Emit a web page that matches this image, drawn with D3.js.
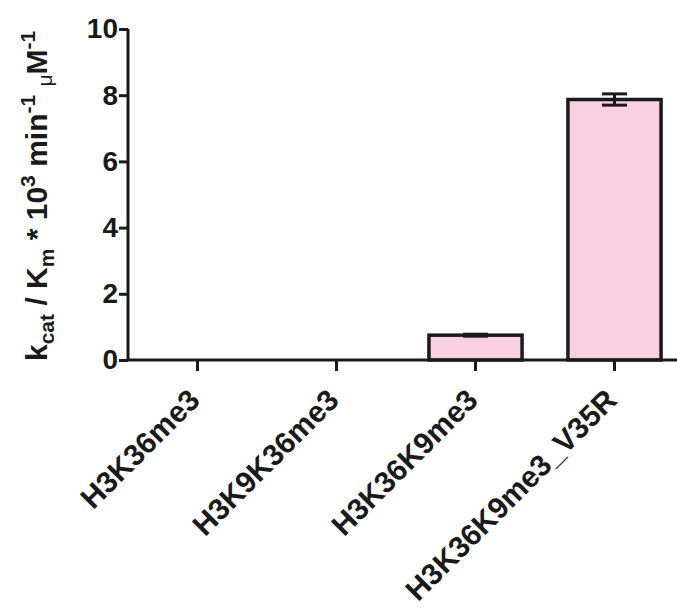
<!DOCTYPE html>
<html>
<head>
<meta charset="utf-8">
<script src="https://cdn.jsdelivr.net/npm/d3@7"></script>
<style>
  html, body { margin: 0; padding: 0; background: #fff; }
  text { font-family: "Liberation Sans", Arial, sans-serif; font-weight: bold; fill: #1a1a1a; }
</style>
</head>
<body>
<svg id="chart" width="677" height="609"></svg>
<script>
// Catalytic efficiency per substrate peptide
const substrates = ["H3K36me3", "H3K9K36me3", "H3K36K9me3", "H3K36K9me3_V35R"];
const efficiency = [0, 0, 0.75, 7.87];
const errors = [0, 0, 0.03, 0.17];
const yTicks = [0, 2, 4, 6, 8, 10];

const svg = d3.select("#chart");
const ink = "#1a1a1a";
const pink = "#f8d0e2";

const x0 = 128, yBase = 360, yTop = 29;

const x = d3.scaleBand()
  .domain(substrates)
  .range([x0, x0 + 556])
  .paddingInner(0.33)
  .paddingOuter(0.165);

const y = d3.scaleLinear().domain([0, 10]).range([yBase, yTop]);

const rows = substrates.map((s, i) => ({ s, v: efficiency[i], e: errors[i] }));

// bars
svg.append("g").selectAll("rect")
  .data(rows.filter(d => d.v > 0))
  .join("rect")
  .attr("x", d => x(d.s))
  .attr("y", d => y(d.v))
  .attr("width", x.bandwidth())
  .attr("height", d => y(0) - y(d.v))
  .attr("fill", pink)
  .attr("stroke", ink)
  .attr("stroke-width", 3.5);

// error bars
const eb = svg.append("g").attr("stroke", ink).attr("stroke-width", 3);
rows.filter(d => d.e > 0).forEach(d => {
  const cx = x(d.s) + x.bandwidth() / 2;
  const hw = 12.5;
  eb.append("line").attr("x1", cx).attr("x2", cx).attr("y1", y(d.v - d.e)).attr("y2", y(d.v + d.e));
  eb.append("line").attr("x1", cx - hw).attr("x2", cx + hw).attr("y1", y(d.v + d.e)).attr("y2", y(d.v + d.e));
  eb.append("line").attr("x1", cx - hw).attr("x2", cx + hw).attr("y1", y(d.v - d.e)).attr("y2", y(d.v - d.e));
});

// y axis
const yAxis = svg.append("g")
  .attr("transform", `translate(${x0},0)`)
  .call(d3.axisLeft(y).tickValues(yTicks).tickSize(9).tickPadding(1).tickFormat(d3.format("d")));
yAxis.select(".domain").attr("stroke", ink).attr("stroke-width", 3)
  .attr("d", `M0,${yTop}V${yBase}`);
yAxis.selectAll(".tick line").attr("stroke", ink).attr("stroke-width", 3);
yAxis.selectAll(".tick text").attr("font-size", 28).attr("fill", ink)
  .attr("font-family", "Liberation Sans, Arial, sans-serif").attr("font-weight", "bold");

// x axis
const xAxis = svg.append("g")
  .attr("transform", `translate(0,${yBase})`)
  .call(d3.axisBottom(x).tickSize(11).tickFormat(() => ""));
xAxis.select(".domain").attr("stroke", ink).attr("stroke-width", 3)
  .attr("d", `M${x0},0H677`);
xAxis.selectAll(".tick line").attr("stroke", ink).attr("stroke-width", 3);

// rotated category labels
svg.append("g").selectAll("text")
  .data(substrates)
  .join("text")
  .attr("transform", d => `translate(${x(d) + x.bandwidth() / 2 + 4},${yBase + 42}) rotate(-45)`)
  .attr("text-anchor", "end")
  .attr("font-size", 30)
  .text(d => d);

// y axis title: kcat / Km * 10^3 min^-1 µM^-1
const title = svg.append("text")
  .attr("transform", `translate(47,361) rotate(-90)`)
  .attr("text-anchor", "start")
  .attr("font-size", 30);
title.append("tspan").text("k");
title.append("tspan").attr("font-size", 21).attr("dy", 7).text("cat");
title.append("tspan").attr("dy", -7).text(" / K");
title.append("tspan").attr("font-size", 21).attr("dy", 7).text("m");
title.append("tspan").attr("dy", -7).text(" * 10");
title.append("tspan").attr("font-size", 21).attr("dy", -12).text("3");
title.append("tspan").attr("dy", 12).text(" min");
title.append("tspan").attr("font-size", 21).attr("dy", -12).text("-1");
title.append("tspan").attr("dy", 12).text(" ");
title.append("tspan").attr("font-size", 21).attr("font-weight", "normal").attr("dy", 5).text("\u03bc");
title.append("tspan").attr("dy", -5).text("M");
title.append("tspan").attr("font-size", 21).attr("dy", -12).text("-1");
</script>
</body>
</html>
